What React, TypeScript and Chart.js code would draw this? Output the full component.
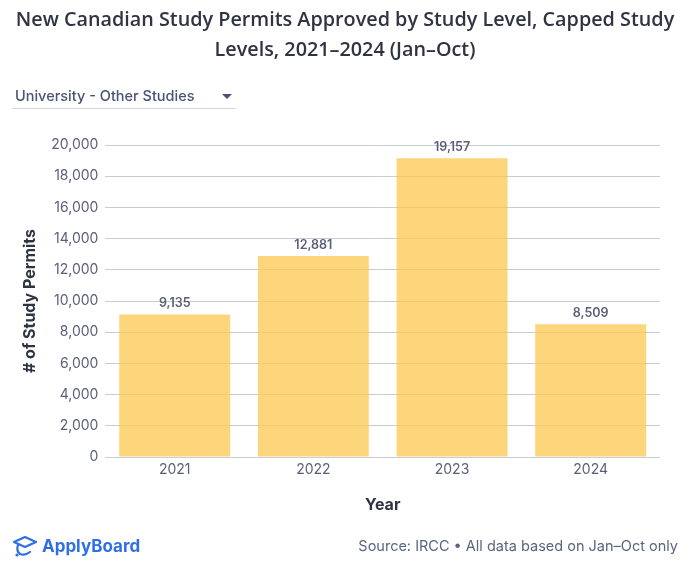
import React, { useEffect, useRef } from "react";
import { Chart, registerables } from "chart.js";

Chart.register(...registerables);

const years = ["2021", "2022", "2023", "2024"];
const permits = [9135, 12881, 19157, 8509];
const yTicks = [0, 2000, 4000, 6000, 8000, 10000, 12000, 14000, 16000, 18000, 20000];

const FONT = "Inter, 'Open Sans', sans-serif";

const valueLabels = {
  id: "valueLabels",
  afterDatasetsDraw(chart: any) {
    const ctx = chart.ctx;
    const meta = chart.getDatasetMeta(0);
    ctx.save();
    ctx.font = `600 12.5px ${FONT}`;
    ctx.fillStyle = "#5a6078";
    ctx.textAlign = "center";
    ctx.textBaseline = "bottom";
    meta.data.forEach((bar: any, i: number) => {
      const v = chart.data.datasets[0].data[i] as number;
      ctx.fillText(v.toLocaleString("en-US"), bar.x, bar.y - 5);
    });
    ctx.restore();
  },
};

export default function App() {
  const ref = useRef<HTMLCanvasElement>(null);
  useEffect(() => {
    document.body.style.margin = "0";
    const chart = new Chart(ref.current!, {
      type: "bar",
      data: {
        labels: years,
        datasets: [
          {
            data: permits,
            backgroundColor: "rgba(252,200,80,0.75)",
            barPercentage: 0.8,
            categoryPercentage: 1,
          },
        ],
      },
      options: {
        animation: false,
        responsive: false,
        maintainAspectRatio: false,
        layout: { padding: { top: 145, left: 21, right: 36, bottom: 55 } },
        plugins: { legend: { display: false }, tooltip: { enabled: false }, title: { display: false } },
        scales: {
          x: {
            grid: { display: false, drawTicks: false },
            border: { display: false },
            ticks: { color: "#5a6078", font: { family: FONT, size: 14 }, padding: 4 },
            title: {
              display: true,
              text: "Year",
              color: "#2f3342",
              font: { family: FONT, size: 16, weight: "bold" },
              padding: { top: 14, bottom: 0 },
            },
          },
          y: {
            min: 0,
            max: 20000,
            afterBuildTicks: (axis: any) => {
              axis.ticks = yTicks.map((v) => ({ value: v }));
            },
            grid: { color: "#c8cbd8", drawTicks: false },
            border: { display: false },
            ticks: {
              color: "#5a6078",
              font: { family: FONT, size: 14 },
              padding: 7,
              callback: (v: any) => Number(v).toLocaleString("en-US"),
            },
            title: {
              display: true,
              text: "# of Study Permits",
              color: "#2f3342",
              font: { family: FONT, size: 16, weight: "bold" },
              padding: { top: 0, bottom: 4 },
            },
          },
        },
      },
      plugins: [valueLabels],
    });
    return () => chart.destroy();
  }, []);

  return (
    <div style={{ position: "relative", width: 696, height: 570, background: "#fff", overflow: "hidden" }}>
      <canvas ref={ref} width={696} height={570} style={{ position: "absolute", left: 0, top: 0 }} />
      <div
        style={{
          position: "absolute",
          left: -3,
          top: 4,
          width: 696,
          textAlign: "center",
          fontFamily: "'Open Sans', sans-serif",
          fontWeight: 600,
          fontSize: 19.8,
          lineHeight: "30px",
          color: "#2f3342",
        }}
      >
        New Canadian Study Permits Approved by Study Level, Capped Study
        <br />
        Levels, 2021–2024 (Jan–Oct)
      </div>
      <div
        style={{
          position: "absolute",
          left: 12,
          top: 84,
          width: 224,
          height: 24,
          borderBottom: "1px solid #d3d6e0",
          fontFamily: FONT,
          fontWeight: 500,
          fontSize: 14.5,
          color: "#4c5375",
        }}
      >
        <span style={{ position: "absolute", left: 3, top: 3 }}>University - Other Studies</span>
        <span
          style={{
            position: "absolute",
            left: 210,
            top: 10,
            width: 0,
            height: 0,
            borderLeft: "5px solid transparent",
            borderRight: "5px solid transparent",
            borderTop: "5px solid #4c5375",
          }}
        />
      </div>
      <div
        style={{
          position: "absolute",
          left: 12,
          top: 534,
          display: "flex",
          alignItems: "center",
          fontFamily: FONT,
          fontWeight: 700,
          fontSize: 17,
          color: "#2f6fe6",
        }}
      >
        <svg width="28" height="24" viewBox="0 0 28 24" style={{ marginRight: 2 }}>
          <path d="M2 8 L13 3 L24 8 L13 13 Z" fill="none" stroke="#2f6fe6" strokeWidth="2.2" strokeLinejoin="round" />
          <path d="M6 11 Q4 17 8 20 Q13 22 18 18" fill="none" stroke="#2f6fe6" strokeWidth="2.2" strokeLinecap="round" />
          <circle cx="5" cy="21" r="1.6" fill="#2f6fe6" />
        </svg>
        ApplyBoard
      </div>
      <div
        style={{
          position: "absolute",
          right: 18,
          top: 537,
          fontFamily: FONT,
          fontSize: 14.5,
          color: "#5c6580",
        }}
      >
        Source: IRCC • All data based on Jan–Oct only
      </div>
    </div>
  );
}
